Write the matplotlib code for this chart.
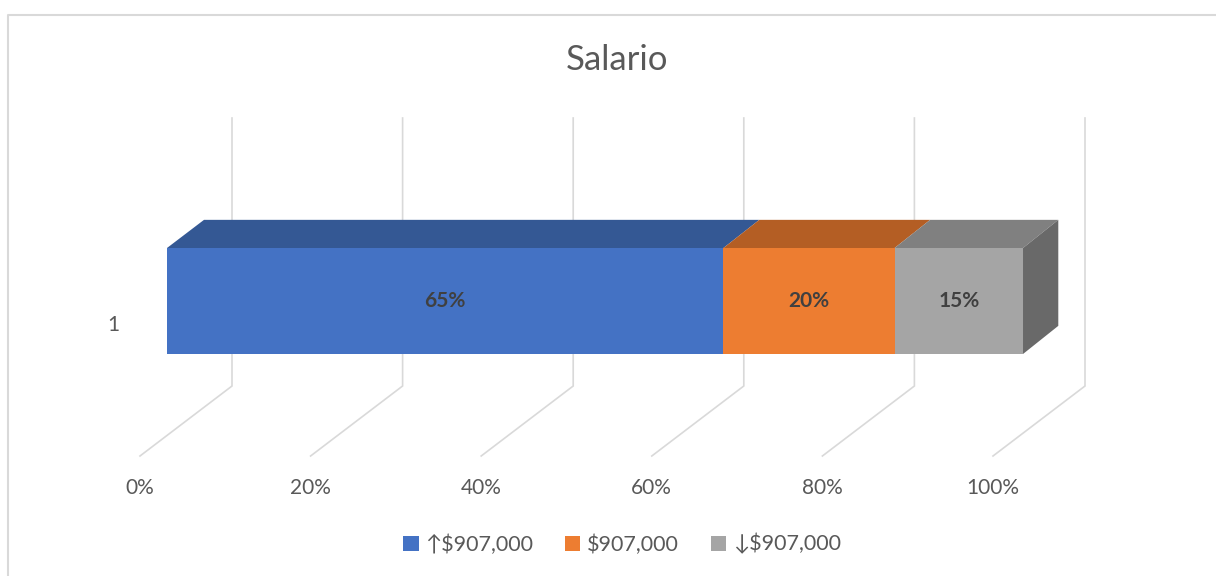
import matplotlib
matplotlib.use("Agg")
import matplotlib.pyplot as plt
from matplotlib.patches import Polygon, Patch
from matplotlib.lines import Line2D

plt.rcParams['font.family'] = ['Lato', 'DejaVu Sans']

# data
title = "Salario"
category = "1"
series = ["\u2191$907,000", "$907,000", "\u2193$907,000"]
shares = [65, 20, 15]
ticks = [0, 20, 40, 60, 80, 100]
front_colors = ["#4472C4", "#ED7D31", "#A5A5A5"]
top_colors = ["#345894", "#B45E24", "#808080"]
side_color = "#696969"
grid_color = "#D9D9D9"
text_color = "#595959"

W, H = 1216, 576
fig = plt.figure(figsize=(W / 100, H / 100), dpi=100)
ax = fig.add_axes([0, 0, 1, 1])
ax.set_axis_off()

# 1 data unit == s pixels in both directions (oblique 3d look)
s = 853 / 100
ax.set_xlim(-232 / s, (W - 232) / s)
ax.set_ylim(0, H / s)

def py(pix_y):
    return (H - pix_y) / s

grid_bot, grid_top = py(386), py(118)
ddx, ddy = -92 / s, -70 / s          # full floor depth
d_back, d_front = 28 / 92, 65 / 92   # bar depth slice
bar_y0 = py(354) - d_front * ddy
bar_h = 106 / s
persp = 0.005                        # slight widening towards the viewer

def proj(v, y, d):
    return (v * (1 + persp * d) + d * ddx, y + d * ddy)

# gridlines: back wall verticals + floor diagonals
for t in ticks:
    ax.plot([t, t, t + ddx], [grid_top, grid_bot, grid_bot + ddy],
            color=grid_color, lw=1.2, solid_joinstyle='miter', zorder=1)
    ax.text(t + ddx, grid_bot + ddy - 32 / s, f"{t}%", ha='center', va='center',
            fontsize=15, color=text_color)

# stacked 3d bar
left = 0
for i, val in enumerate(shares):
    right = left + val
    y0, y1 = bar_y0, bar_y0 + bar_h
    top = [proj(left, y1, d_front), proj(right, y1, d_front),
           proj(right, y1, d_back), proj(left, y1, d_back)]
    ax.add_patch(Polygon(top, closed=True, facecolor=top_colors[i], edgecolor='none', zorder=2))
    front = [proj(left, y0, d_front), proj(right, y0, d_front),
             proj(right, y1, d_front), proj(left, y1, d_front)]
    ax.add_patch(Polygon(front, closed=True, facecolor=front_colors[i], edgecolor='none', zorder=3))
    if i == len(shares) - 1:
        side = [proj(right, y0, d_front), proj(right, y0, d_back),
                proj(right, y1, d_back), proj(right, y1, d_front)]
        ax.add_patch(Polygon(side, closed=True, facecolor=side_color, edgecolor='none', zorder=2))
    cx, cy = proj((left + right) / 2, y0 + bar_h / 2, d_front)
    ax.text(cx, cy, f"{val}%", ha='center', va='center', fontsize=15,
            fontweight='bold', color="#404040", zorder=4)
    left = right

# category label
ax.text(113 / s - 232 / s, py(325), category, ha='center', va='center',
        fontsize=15, color=text_color)

fig.text(617 / W, 1 - 60 / H, title, ha='center', va='center', fontsize=25, color=text_color)

handles = [Patch(facecolor=c, edgecolor='none') for c in front_colors]
fig.legend(handles, series, loc='center', bbox_to_anchor=(622 / W, 1 - 544 / H), ncol=3,
           frameon=False, fontsize=15.5, handlelength=0.7, handleheight=0.7,
           handletextpad=0.3, columnspacing=1.5, labelcolor=text_color)

# chart border
fig.add_artist(Line2D([8 / W, 8 / W, 1], [0, 1 - 15 / H, 1 - 15 / H], transform=fig.transFigure,
                      color=grid_color, lw=1.5))

fig.savefig("out.png", dpi=100, facecolor='white')
